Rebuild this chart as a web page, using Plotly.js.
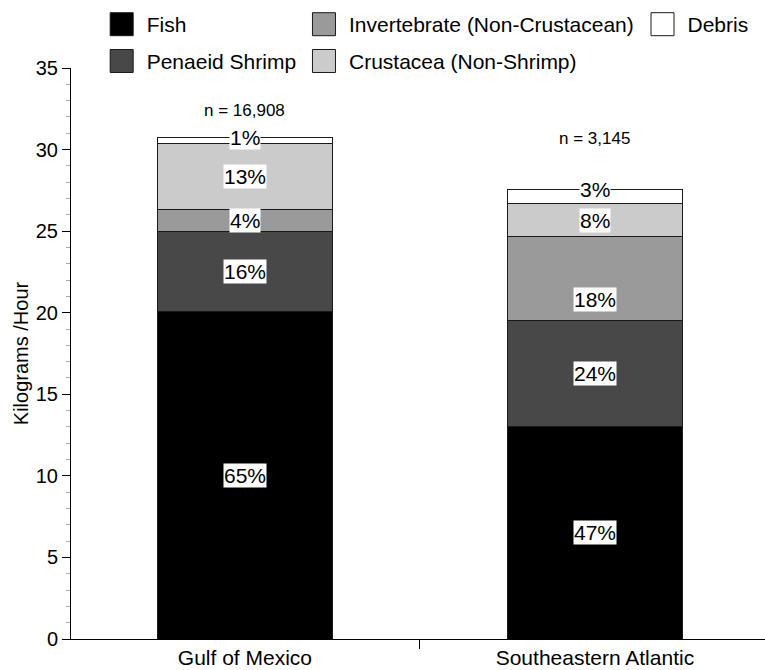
<!DOCTYPE html>
<html>
<head>
<meta charset="utf-8">
<script src="https://cdn.plot.ly/plotly-3.0.1.min.js"></script>
<style>html,body{margin:0;padding:0;background:#fff;}</style>
</head>
<body>
<div id="chart" style="width:765px;height:670px;"></div>
<script>
// ---- data ----
var regions = ['Gulf of Mexico', 'Southeastern Atlantic'];
var sampleSizes = ['16,908', '3,145'];
var seriesNames = ['Fish', 'Penaeid Shrimp', 'Invertebrate (Non-Crustacean)', 'Crustacea (Non-Shrimp)', 'Debris'];
var fishKg = [20.1, 13.0];
var shrimpKg = [4.9, 6.55];
var invertKg = [1.3, 5.1];
var crustaceaKg = [4.1, 2.05];
var debrisKg = [0.35, 0.87];
var fishPct = [65, 47];
var shrimpPct = [16, 24];
var invertPct = [4, 18];
var crustaceaPct = [13, 8];
var debrisPct = [1, 3];

// ---- styling ----
var FONT = 'Liberation Sans, Arial, Helvetica, sans-serif';
var colors = ['#000000', '#484848', '#9a9a9a', '#cbcbcb', '#ffffff'];
var values = [fishKg, shrimpKg, invertKg, crustaceaKg, debrisKg];
var pcts = [fishPct, shrimpPct, invertPct, crustaceaPct, debrisPct];
var legendIds = ['legend', 'legend', 'legend2', 'legend2', 'legend3'];

var traces = values.map(function (v, i) {
  return {
    type: 'bar',
    name: seriesNames[i],
    x: regions,
    y: v,
    width: 0.5,
    marker: {color: colors[i], line: {color: '#1a1a1a', width: 1}},
    legend: legendIds[i],
    legendgroup: 'g' + i,
    hoverinfo: 'skip'
  };
});

// ---- labels ----
var annotations = [];
regions.forEach(function (r, c) {
  var base = 0;
  values.forEach(function (v, i) {
    var top = base + v[c];
    var isTop = (i === values.length - 1);
    var yPos = isTop ? top : (base + top) / 2;
    var shift = 0;
    if (i === 2 && c === 1) shift = -21;
    annotations.push({
      x: r, y: yPos, xref: 'x', yref: 'y',
      text: pcts[i][c] + '%', showarrow: false,
      bgcolor: '#ffffff', borderpad: 0,
      font: {family: FONT, size: 21, color: '#000'},
      yshift: shift
    });
    base = top;
  });
  annotations.push({
    x: r, y: base, xref: 'x', yref: 'y',
    text: 'n = ' + sampleSizes[c], showarrow: false,
    font: {family: FONT, size: 17, color: '#000'},
    yshift: c === 0 ? 27 : 51
  });
});

var legendBase = {
  orientation: 'v', yanchor: 'top', y: 1.112, xanchor: 'left',
  font: {family: FONT, size: 21, color: '#000'},
  bgcolor: 'rgba(0,0,0,0)', itemwidth: 40, tracegroupgap: 6.5,
  traceorder: 'grouped', itemclick: false, itemdoubleclick: false
};
function leg(x) { return Object.assign({}, legendBase, {x: x}); }

var layout = {
  width: 765, height: 670,
  margin: {l: 71, r: 0, t: 68, b: 31},
  paper_bgcolor: '#fff', plot_bgcolor: '#fff',
  barmode: 'stack',
  showlegend: true,
  legend: leg(0.037),
  legend2: leg(0.3285),
  legend3: leg(0.8163),
  font: {family: FONT, color: '#000'},
  xaxis: {
    type: 'category', range: [-0.497, 1.486],
    tickson: 'boundaries', ticks: 'outside', ticklen: 9, tickcolor: '#000', tickwidth: 1,
    showline: true, linecolor: '#000', linewidth: 1,
    showgrid: false, zeroline: false,
    tickfont: {family: FONT, size: 21, color: '#000'}
  },
  yaxis: {
    range: [0, 35], dtick: 5, tick0: 0,
    ticks: 'outside', ticklen: 8, tickcolor: '#000', tickwidth: 1,
    showline: true, linecolor: '#000', linewidth: 1,
    showgrid: false, zeroline: false,
    tickfont: {family: FONT, size: 20, color: '#000'},
    minor: {dtick: 1, ticks: 'outside', ticklen: 4, tickcolor: '#aaaaaa', showgrid: false},
    title: {text: 'Kilograms /Hour', standoff: 1, font: {family: FONT, size: 20, color: '#000'}}
  },
  annotations: annotations
};

Plotly.newPlot('chart', traces, layout, {displayModeBar: false, staticPlot: true}).then(function (gd) {
  // enlarge legend swatches to match the reference's larger squares
  var paths = gd.querySelectorAll('.legendpoints path');
  paths.forEach(function (p) {
    p.setAttribute('d', 'M11.5,11.5H-11.5V-11.5H11.5Z');
  });
});
</script>
</body>
</html>
